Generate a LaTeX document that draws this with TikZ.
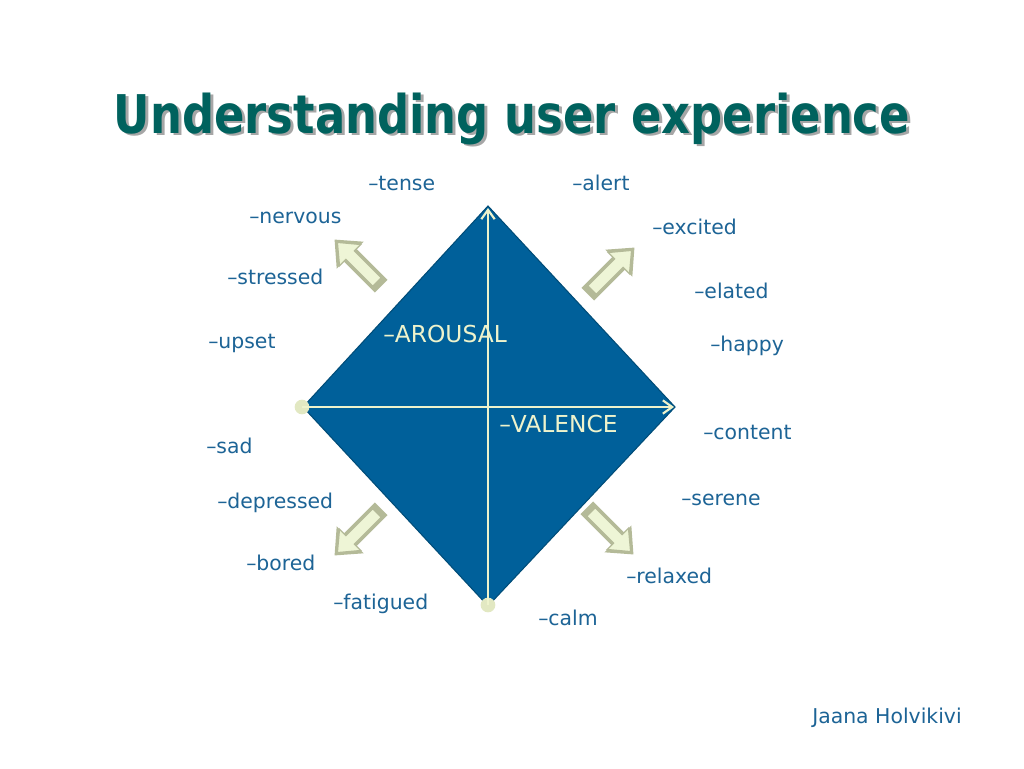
\documentclass[tikz,border=0pt]{standalone}
\usepackage{fontspec}
\setmainfont{DejaVu Sans}
\usetikzlibrary{arrows.meta}
\definecolor{titlec}{HTML}{00625E}
\definecolor{labc}{HTML}{1D6496}
\definecolor{diac}{HTML}{00609A}
\definecolor{diab}{HTML}{004C78}
\definecolor{axc}{HTML}{EEF3CC}
\definecolor{arface}{HTML}{EEF5D6}
\definecolor{arside}{HTML}{B4BA98}
\tikzset{
  lab/.style={text=labc,font=\fontsize{15.3}{17}\selectfont,anchor=west,inner sep=0pt},
  axlab/.style={text=axc,font=\fontsize{17.5}{19}\selectfont,anchor=west,inner sep=0pt},
  axis/.style={draw=axc,line width=2.2pt},
  dotc/.style={circle,fill=axc!80!arside,inner sep=0pt,minimum size=11pt},
}
\newcommand{\titletext}{\resizebox{597pt}{\height}{\fontsize{40}{44}\selectfont\bfseries Understanding user experience}}
\newcommand{\blockarr}[3]{%
  \begin{scope}[shift={(#1,#2)},rotate=#3]
    \fill[arside] (-6,-9) -- (38,-9) -- (38,-19) -- (60,0) -- (38,19) -- (38,9) -- (-6,9) -- cycle;
    \filldraw[fill=arface,draw=arside,line width=0.9pt] (0,-6) -- (38,-6) -- (38,-15) -- (56,0) -- (38,15) -- (38,6) -- (0,6) -- cycle;
  \end{scope}}
\begin{document}
\begin{tikzpicture}[x=0.75pt,y=-0.75pt]
\useasboundingbox (0,0) rectangle (1024,768);
\fill[white] (0,0) rectangle (1024,768);
% title (with its drop shadow inside the same node)
\node[inner sep=0pt] (title) at (512,120) {\makebox[0pt][l]{\hspace{2.2pt}\raisebox{-2.2pt}{\color{black!35}\titletext}}\color{titlec}\titletext};
% diamond
\coordinate (T) at (488,206);
\coordinate (L) at (303,407);
\coordinate (R) at (675,407);
\coordinate (B) at (488,606);
\filldraw[fill=diac,draw=diab,line width=0.8pt] (T) -- (R) -- (B) -- (L) -- cycle;
\node[dotc] (dl) at (302,407) {};
\node[dotc] (db) at (488,605) {};
\coordinate (at) at (488,208);
\coordinate (ar) at (674,407);
\draw[axis,-{Straight Barb[length=7pt,width=10pt,line width=1.6pt]}] (db.center) -- (at);
\draw[axis,-{Straight Barb[length=7pt,width=10pt,line width=1.6pt]}] (dl.center) -- (ar);
\node[axlab] (arousal) at (383,334) {–AROUSAL};
\node[axlab] (valence) at (499,424) {–VALENCE};
% block arrows
\blockarr{592}{290}{45}
\blockarr{377}{282}{135}
\blockarr{377}{513}{225}
\blockarr{591}{512}{-45}
% labels
\node[lab] (tense) at (368,183) {–tense};
\node[lab] (alert) at (572,183) {–alert};
\node[lab] (nervous) at (249,218) {–nervous};
\node[lab] (excited) at (652,227) {–excited};
\node[lab] (stressed) at (227,277) {–stressed};
\node[lab] (elated) at (694,291) {–elated};
\node[lab] (upset) at (208,343) {–upset};
\node[lab] (happy) at (710,346) {–happy};
\node[lab] (content) at (703,432) {–content};
\node[lab] (sad) at (206,446) {–sad};
\node[lab] (depressed) at (217,503) {–depressed};
\node[lab] (serene) at (681,500) {–serene};
\node[lab] (bored) at (246,563) {–bored};
\node[lab] (relaxed) at (626,576) {–relaxed};
\node[lab] (fatigued) at (333,604) {–fatigued};
\node[lab] (calm) at (538,618) {–calm};
\node[lab] (author) at (812,718) {Jaana Holvikivi};
\end{tikzpicture}
\end{document}
